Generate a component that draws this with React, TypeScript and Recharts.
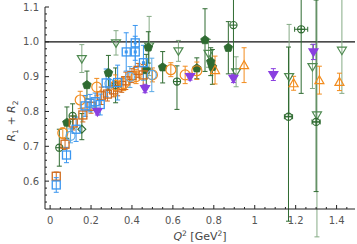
import { ScatterChart, Scatter, XAxis, YAxis, ErrorBar, ReferenceLine } from 'recharts';

type Err = number | [number, number];
interface Pt {
  q2: number;
  r: number;
  err: Err;
  xerr?: number;
}

const xMajor = [0, 0.2, 0.4, 0.6, 0.8, 1, 1.2, 1.4];
const xLabels = ['0', '0.2', '0.4', '0.6', '0.8', '1', '1.2', '1.4'];
const yMajor = [0.6, 0.7, 0.8, 0.9, 1.0, 1.1];
const yLabels = ['0.6', '0.7', '0.8', '0.9', '1.0', '1.1'];

const blueSquares: Pt[] = [
  { q2: 0.03, r: 0.589, err: 0.021 },
  { q2: 0.08, r: 0.675, err: 0.022 },
  { q2: 0.127, r: 0.749, err: 0.035 },
  { q2: 0.171, r: 0.816, err: 0.03 },
  { q2: 0.195, r: 0.824, err: 0.025 },
  { q2: 0.22, r: 0.828, err: 0.025 },
  { q2: 0.245, r: 0.82, err: 0.03 },
  { q2: 0.274, r: 0.882, err: 0.04 },
  { q2: 0.33, r: 0.883, err: 0.05 },
];

const blueDotSquares: Pt[] = [
  { q2: 0.372, r: 0.971, err: 0.055 },
  { q2: 0.416, r: 0.971, err: 0.045 },
  { q2: 0.416, r: 0.997, err: 0.05 },
  { q2: 0.456, r: 0.94, err: 0.05 },
];

const lightBlueCircles: Pt[] = [
  { q2: 0.1, r: 0.73, err: 0.02 },
  { q2: 0.29, r: 0.88, err: 0.025 },
  { q2: 0.39, r: 0.899, err: 0.03 },
  { q2: 0.497, r: 0.905, err: 0.048 },
];

const orangeSquares: Pt[] = [
  { q2: 0.03, r: 0.614, err: 0.012 },
  { q2: 0.073, r: 0.706, err: 0.015 },
  { q2: 0.113, r: 0.767, err: 0.02 },
  { q2: 0.16, r: 0.79, err: 0.02 },
  { q2: 0.2, r: 0.815, err: 0.02 },
  { q2: 0.25, r: 0.845, err: 0.025 },
  { q2: 0.28, r: 0.85, err: 0.02 },
  { q2: 0.31, r: 0.862, err: 0.02 },
  { q2: 0.33, r: 0.87, err: 0.025 },
  { q2: 0.35, r: 0.875, err: 0.02 },
  { q2: 0.37, r: 0.888, err: 0.025 },
  { q2: 0.4, r: 0.903, err: 0.02 },
  { q2: 0.43, r: 0.918, err: 0.02 },
  { q2: 0.455, r: 0.905, err: 0.03 },
];

const orangeCircles: Pt[] = [
  { q2: 0.062, r: 0.738, err: 0.015 },
  { q2: 0.147, r: 0.833, err: 0.025 },
  { q2: 0.228, r: 0.87, err: 0.025 },
  { q2: 0.32, r: 0.875, err: 0.03 },
  { q2: 0.36, r: 0.88, err: 0.02 },
  { q2: 0.42, r: 0.9, err: 0.02 },
  { q2: 0.5, r: 0.905, err: 0.02 },
  { q2: 0.59, r: 0.92, err: 0.02 },
  { q2: 0.66, r: 0.905, err: 0.025 },
  { q2: 0.717, r: 0.917, err: 0.025 },
];

const orangeTriangles: Pt[] = [
  { q2: 0.806, r: 0.919, err: 0.04 },
  { q2: 0.948, r: 0.933, err: 0.05 },
  { q2: 1.19, r: 0.881, err: 0.02 },
  { q2: 1.316, r: 0.89, err: 0.04 },
  { q2: 1.414, r: 0.885, err: 0.025 },
];

const greenFilled: Pt[] = [
  { q2: 0.082, r: 0.768, err: 0.045 },
  { q2: 0.18, r: 0.876, err: 0.04 },
  { q2: 0.285, r: 0.911, err: 0.05 },
  { q2: 0.47, r: 0.919, err: 0.045 },
  { q2: 0.48, r: 0.984, err: 0.045 },
  { q2: 0.55, r: 0.927, err: 0.045 },
  { q2: 0.717, r: 0.924, err: 0.03 },
  { q2: 0.757, r: 1.005, err: 0.09 },
  { q2: 0.785, r: 0.943, err: 0.04 },
  { q2: 0.793, r: 0.928, err: 0.05 },
  { q2: 0.871, r: 0.983, err: 0.075 },
];

const greenCrossed: Pt[] = [
  { q2: 0.045, r: 0.696, err: 0.053 },
  { q2: 0.11, r: 0.787, err: 0.035 },
  { q2: 0.32, r: 0.875, err: 0.05 },
  { q2: 0.62, r: 0.886, err: [0.08, 0.045] },
  { q2: 0.896, r: 1.048, err: [0.14, 0.1] },
];

const greenCrossedWide: Pt[] = [
  { q2: 1.165, r: 0.785, err: [0.3, 0.2], xerr: 0.02 },
  { q2: 1.227, r: 1.036, err: [0.184, 0.1], xerr: 0.032 },
  { q2: 1.3, r: 0.77, err: [0.2, 0.35], xerr: 0.02 },
];

const greenDiamonds: Pt[] = [{ q2: 0.155, r: 0.749, err: [0.03, 0.045] }];

const greenTriangles: Pt[] = [
  { q2: 0.155, r: 0.952, err: 0.04 },
  { q2: 0.322, r: 0.997, err: 0.035 },
  { q2: 0.484, r: 0.988, err: 0.085 },
  { q2: 0.627, r: 0.974, err: 0.03 },
  { q2: 0.774, r: 0.967, err: 0.04 },
  { q2: 0.909, r: 0.914, err: 0.043 },
  { q2: 1.168, r: 0.9, err: [0.11, 0.15] },
  { q2: 1.282, r: 0.929, err: 0.063 },
  { q2: 1.304, r: 0.79, err: 0.35 },
  { q2: 1.426, r: 0.976, err: [0.124, 0.2] },
];

const purpleTriangles: Pt[] = [
  { q2: 0.231, r: 0.8, err: 0.01 },
  { q2: 0.464, r: 0.866, err: 0.012 },
  { q2: 0.684, r: 0.9, err: 0.01 },
  { q2: 0.896, r: 0.895, err: 0.012 },
  { q2: 1.091, r: 0.906, err: 0.017 },
  { q2: 1.287, r: 0.971, err: 0.022 },
];

const BLUE = '#3a96f0';
const LIGHT_BLUE = '#5aaae6';
const DARK_ORANGE = '#cf6a1c';
const ORANGE = '#f28c1e';
const GREEN = '#2f6b31';
const LIGHT_GREEN = '#4f8a51';
const GREEN_BAR = '#86ab86';
const PURPLE = '#8a3fe0';
const FONT = '"DejaVu Sans", sans-serif';

function steps(lo: number, hi: number, step: number) {
  const out: number[] = [];
  for (let i = 0; lo + i * step <= hi + 1e-9; i++) out.push(+(lo + i * step).toFixed(4));
  return out;
}
const xTicks = steps(0, 1.45, 0.05);
const yTicks = steps(0.54, 1.1, 0.02);

const majorIndex = (v: number, majors: number[]) => majors.findIndex((m) => Math.abs(m - v) < 1e-6);

const BottomTick = ({ x, y, payload }: any) => {
  const i = majorIndex(payload.value, xMajor);
  return (
    <g>
      <line x1={x} y1={y} x2={x} y2={y - (i >= 0 ? 4 : 2)} stroke="#222" />
      {i >= 0 && (
        <text x={x} y={y + 15} textAnchor="middle" fontSize={10} fill="#555" fontFamily={FONT}>
          {xLabels[i]}
        </text>
      )}
    </g>
  );
};
const TopTick = ({ x, y, payload }: any) => {
  const i = majorIndex(payload.value, xMajor);
  return <line x1={x} y1={y} x2={x} y2={y + (i >= 0 ? 4 : 2)} stroke="#222" />;
};
const LeftTick = ({ x, y, payload }: any) => {
  const i = majorIndex(payload.value, yMajor);
  return (
    <g>
      <line x1={x} y1={y} x2={x + (i >= 0 ? 4 : 2)} y2={y} stroke="#222" />
      {i >= 0 && (
        <text x={x - 6} y={y + 3.5} textAnchor="end" fontSize={10} fill="#555" fontFamily={FONT}>
          {yLabels[i]}
        </text>
      )}
    </g>
  );
};
const RightTick = ({ x, y, payload }: any) => {
  const i = majorIndex(payload.value, yMajor);
  return <line x1={x} y1={y} x2={x - (i >= 0 ? 4 : 2)} y2={y} stroke="#222" />;
};

// marker shapes
const squareShape = (color: string, dot = false) => (p: any) => (
  <g>
    <rect x={p.cx - 4} y={p.cy - 4} width={8} height={8} fill="none" stroke={color} strokeWidth={1.3} />
    {dot && <rect x={p.cx - 1.5} y={p.cy - 1.5} width={3} height={3} fill={color} />}
  </g>
);
const circleShape = (color: string, r = 4.5) => (p: any) => (
  <circle cx={p.cx} cy={p.cy} r={r} fill="none" stroke={color} strokeWidth={1.2} />
);
const crossedShape = (color: string) => (p: any) => (
  <g stroke={color} strokeWidth={1.1} fill="none">
    <circle cx={p.cx} cy={p.cy} r={3.6} />
    <line x1={p.cx - 3.6} y1={p.cy} x2={p.cx + 3.6} y2={p.cy} />
    <line x1={p.cx} y1={p.cy - 3.6} x2={p.cx} y2={p.cy + 3.6} />
  </g>
);
const diamondShape = (color: string) => (p: any) => (
  <polygon
    points={`${p.cx},${p.cy - 4} ${p.cx + 4},${p.cy} ${p.cx},${p.cy + 4} ${p.cx - 4},${p.cy}`}
    fill="none"
    stroke={color}
    strokeWidth={1.1}
  />
);
const downTriShape = (color: string, filled: boolean) => (p: any) => (
  <polygon
    points={`${p.cx - 4.5},${p.cy - 3} ${p.cx + 4.5},${p.cy - 3} ${p.cx},${p.cy + 4.5}`}
    fill={filled ? color : 'none'}
    stroke={color}
    strokeWidth={1.2}
  />
);
const upTriShape = (color: string) => (p: any) => (
  <polygon
    points={`${p.cx - 4.5},${p.cy + 3.5} ${p.cx + 4.5},${p.cy + 3.5} ${p.cx},${p.cy - 4.5}`}
    fill="none"
    stroke={color}
    strokeWidth={1.2}
  />
);
const pentagonShape = (color: string) => (p: any) => {
  const pts = [0, 1, 2, 3, 4]
    .map((k) => {
      const a = -Math.PI / 2 + (k * 2 * Math.PI) / 5;
      return `${p.cx + 4.5 * Math.cos(a)},${p.cy + 4.5 * Math.sin(a)}`;
    })
    .join(' ');
  return <polygon points={pts} fill={color} stroke={color} strokeWidth={0.8} />;
};

const XLabel = ({ viewBox }: any) => (
  <text x={viewBox.x + viewBox.width / 2} y={240} textAnchor="middle" fontSize={11} fill="#444" fontFamily={FONT}>
    <tspan fontStyle="italic">Q</tspan>
    <tspan fontSize={7.5} dy={-4}>2</tspan>
    <tspan dy={4}> [GeV</tspan>
    <tspan fontSize={7.5} dy={-4}>2</tspan>
    <tspan dy={4}>]</tspan>
  </text>
);
const YLabel = () => (
  <text x={0} y={0} transform="translate(15,121) rotate(-90)" textAnchor="middle" fontSize={11} fill="#444" fontFamily={FONT}>
    <tspan fontStyle="italic">R</tspan>
    <tspan fontSize={7.5} dy={2.5}>1</tspan>
    <tspan dy={-2.5}> + </tspan>
    <tspan fontStyle="italic">R</tspan>
    <tspan fontSize={7.5} dy={2.5}>2</tspan>
  </text>
);

const bars = (color: string, w = 2.5) => (
  <ErrorBar dataKey="err" direction="y" width={w} stroke={color} strokeWidth={1} />
);

export default function App() {
  return (
    <div style={{ position: 'absolute', left: 0, top: 0, background: '#fff' }}>
      <ScatterChart width={357} height={244} margin={{ top: 7, right: 2, bottom: 0, left: 0 }}>
        <XAxis
          xAxisId={0}
          dataKey="q2"
          type="number"
          domain={[-0.025, 1.49]}
          allowDataOverflow
          ticks={xTicks}
          interval={0}
          tickSize={0}
          tickMargin={0}
          tick={BottomTick}
          height={35}
          stroke="#222"
          label={{ content: XLabel }}
        />
        <XAxis
          xAxisId="top"
          orientation="top"
          dataKey="q2"
          type="number"
          domain={[-0.025, 1.49]}
          allowDataOverflow
          ticks={xTicks}
          interval={0}
          tickSize={0}
          tickMargin={0}
          tick={TopTick}
          height={0}
          stroke="#222"
        />
        <YAxis
          yAxisId={0}
          dataKey="r"
          type="number"
          domain={[0.52, 1.1]}
          allowDataOverflow
          ticks={yTicks}
          interval={0}
          tickSize={0}
          tickMargin={0}
          tick={LeftTick}
          width={45}
          stroke="#222"
          label={{ content: YLabel }}
        />
        <YAxis
          yAxisId="right"
          orientation="right"
          dataKey="r"
          type="number"
          domain={[0.52, 1.1]}
          allowDataOverflow
          ticks={yTicks}
          interval={0}
          tickSize={0}
          tickMargin={0}
          tick={RightTick}
          width={0}
          stroke="#222"
        />
        <ReferenceLine y={1} stroke="#111" strokeWidth={1.2} />

        <Scatter data={greenTriangles} shape={downTriShape(LIGHT_GREEN, false)} isAnimationActive={false}>
          {bars(GREEN_BAR)}
        </Scatter>
        <Scatter data={greenCrossedWide} shape={crossedShape(GREEN)} isAnimationActive={false}>
          {bars(GREEN)}
          <ErrorBar dataKey="xerr" direction="x" width={2.5} stroke={GREEN} strokeWidth={1} />
        </Scatter>
        <Scatter data={greenCrossed} shape={crossedShape(GREEN)} isAnimationActive={false}>
          {bars(GREEN)}
        </Scatter>
        <Scatter data={greenDiamonds} shape={diamondShape(GREEN)} isAnimationActive={false}>
          {bars(GREEN)}
        </Scatter>
        <Scatter data={greenFilled} shape={pentagonShape(GREEN)} isAnimationActive={false}>
          {bars(GREEN)}
        </Scatter>
        <Scatter data={orangeSquares} shape={squareShape(DARK_ORANGE)} isAnimationActive={false}>
          {bars(DARK_ORANGE)}
        </Scatter>
        <Scatter data={orangeCircles} shape={circleShape(ORANGE, 5)} isAnimationActive={false}>
          {bars(ORANGE)}
        </Scatter>
        <Scatter data={orangeTriangles} shape={upTriShape(ORANGE)} isAnimationActive={false}>
          {bars(ORANGE)}
        </Scatter>
        <Scatter data={lightBlueCircles} shape={circleShape(LIGHT_BLUE)} isAnimationActive={false}>
          {bars(LIGHT_BLUE)}
        </Scatter>
        <Scatter data={blueSquares} shape={squareShape(BLUE)} isAnimationActive={false}>
          {bars(BLUE)}
        </Scatter>
        <Scatter data={blueDotSquares} shape={squareShape(BLUE, true)} isAnimationActive={false}>
          {bars(BLUE)}
        </Scatter>
        <Scatter data={purpleTriangles} shape={downTriShape(PURPLE, true)} isAnimationActive={false}>
          {bars(PURPLE)}
        </Scatter>
      </ScatterChart>
    </div>
  );
}
